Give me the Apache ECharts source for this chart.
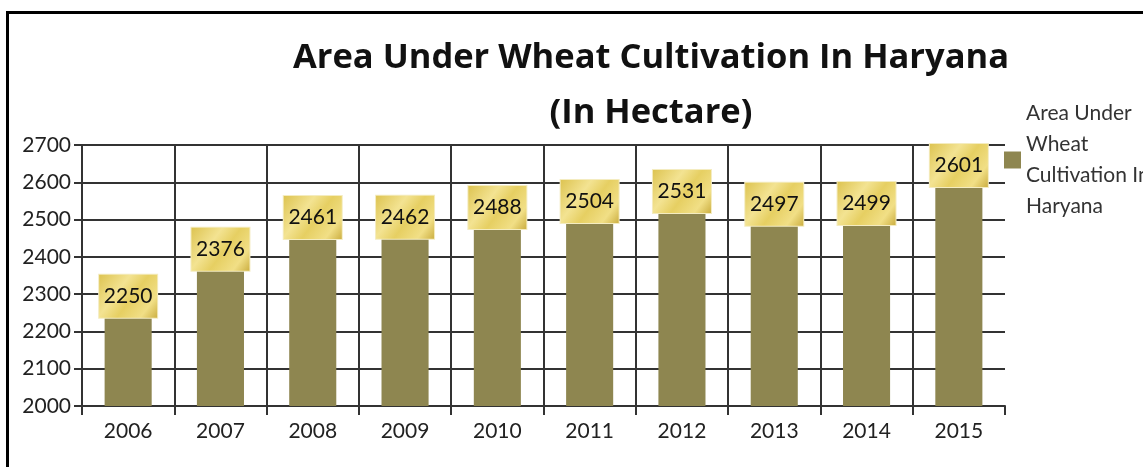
<!DOCTYPE html>
<html>
<head>
<meta charset="utf-8">
<script src="https://cdn.jsdelivr.net/npm/echarts@6/dist/echarts.min.js"></script>
<style>
html,body{margin:0;padding:0;background:#fff;}
#chart{width:1143px;height:467px;}
</style>
</head>
<body>
<div id="chart"></div>
<script>
const titleText = 'Area Under Wheat Cultivation In Haryana\n(In Hectare)';
const seriesName = 'Area Under\nWheat\nCultivation In\nHaryana';
const years = ['2006','2007','2008','2009','2010','2011','2012','2013','2014','2015'];
const areaValues = [2250, 2376, 2461, 2462, 2488, 2504, 2531, 2497, 2499, 2601];
const yMin = 2000, yMax = 2700, yStep = 100;

const chart = echarts.init(document.getElementById('chart'), null, {renderer: 'canvas'});
const lineColor = '#333';
const font = 'Lato, "Open Sans", sans-serif';

chart.setOption({
  animation: false,
  backgroundColor: '#fff',
  graphic: [{
    type: 'rect',
    shape: {x: 7.5, y: 12.5, width: 1200, height: 600},
    style: {fill: 'none', stroke: '#000', lineWidth: 3},
    silent: true, z: 100
  }],
  title: {
    text: titleText,
    left: 646, top: 26,
    textAlign: 'center',
    textStyle: {fontFamily: '"Open Sans", sans-serif', fontWeight: 'bold', fontSize: 34.5, lineHeight: 55, color: '#111'}
  },
  legend: {
    left: 1004, top: 98,
    padding: 0,
    orient: 'vertical',
    itemWidth: 17, itemHeight: 17,
    itemGap: 0,
    icon: 'rect',
    textStyle: {fontFamily: font, fontSize: 21, lineHeight: 31, color: '#333'},
    data: [seriesName]
  },
  grid: {left: 82, right: 138, top: 145, bottom: 61, containLabel: false},
  xAxis: {
    type: 'category',
    data: years,
    boundaryGap: true,
    axisLine: {show: true, lineStyle: {color: lineColor, width: 2}},
    axisTick: {show: true, length: 9, alignWithLabel: false, lineStyle: {color: lineColor, width: 2}},
    axisLabel: {fontFamily: font, fontSize: 21, color: '#222', margin: 15},
    splitLine: {show: true, showMinLine: false, showMaxLine: false, lineStyle: {color: lineColor, width: 2}}
  },
  yAxis: {
    type: 'value',
    min: yMin, max: yMax, interval: yStep,
    axisLine: {show: true, lineStyle: {color: lineColor, width: 2}},
    axisTick: {show: true, length: 8, lineStyle: {color: lineColor, width: 2}},
    axisLabel: {fontFamily: font, fontSize: 21, color: '#222', margin: 11, formatter: v => String(v)},
    splitLine: {show: true, lineStyle: {color: lineColor, width: 2}}
  },
  series: [{
    name: seriesName,
    type: 'bar',
    data: areaValues,
    barWidth: '51%',
    itemStyle: {color: '#8e8650'},
    z: 3,
    label: {
      show: true,
      position: 'top',
      distance: -5,
      fontFamily: font,
      fontSize: 21,
      color: '#111',
      width: 46,
      align: 'center',
      padding: [11, 6, 11, 6],
      backgroundColor: {
        type: 'linear', x: 0, y: 0, x2: 1, y2: 1,
        colorStops: [
          {offset: 0, color: '#dcc24e'},
          {offset: 0.35, color: '#f3e392'},
          {offset: 0.55, color: '#e6cf62'},
          {offset: 0.8, color: '#f1df86'},
          {offset: 1, color: '#c9ab3c'}
        ]
      },
      borderColor: '#f4ecc0',
      borderWidth: 1
    }
  }]
});
</script>
</body>
</html>
